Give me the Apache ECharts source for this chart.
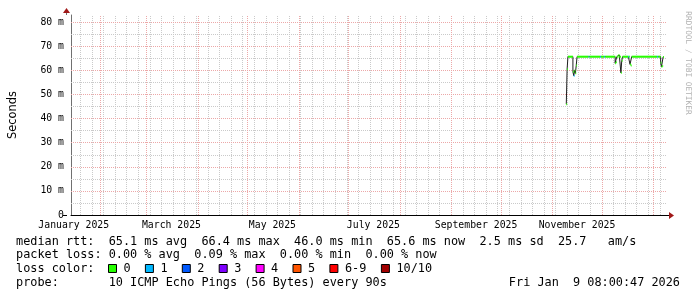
<!DOCTYPE html>
<html>
<head>
<meta charset="utf-8">
<script src="https://cdn.jsdelivr.net/npm/echarts@6/dist/echarts.min.js"></script>
<style>
html,body{margin:0;padding:0;background:#fff;}
#chart{width:697px;height:297px;}
</style>
</head>
<body>
<div id="chart"></div>
<script>
// ---- data ----
const rangeStart = '2025-01-14 08:00';
const rangeEnd = '2026-01-09 08:00';
const xLabelTimes = ['2025-01-16 00:00','2025-03-16 00:00','2025-05-16 00:00','2025-07-16 00:00','2025-09-16 00:00','2025-11-16 00:00'];
const xLabelTexts = ['January 2025','March 2025','May 2025','July 2025','September 2025','November 2025'];
const yTicks = [0,10,20,30,40,50,60,70,80];
const yTickLabels = ['0','10 m','20 m','30 m','40 m','50 m','60 m','70 m','80 m'];

// median rtt (ms) per sample; value holds until the next sample time
const rttTimes = [
  '2025-11-09 12:00','2025-11-10 00:00','2025-11-10 12:00','2025-11-13 12:00','2025-11-14 00:00',
  '2025-11-14 12:00','2025-11-15 00:00','2025-11-15 12:00','2025-11-16 00:00','2025-11-23 00:00',
  '2025-11-23 12:00','2025-11-30 00:00','2025-11-30 12:00','2025-12-02 12:00','2025-12-03 00:00',
  '2025-12-09 00:00','2025-12-09 12:00','2025-12-10 00:00','2025-12-11 00:00','2025-12-11 12:00',
  '2025-12-12 12:00','2025-12-13 00:00','2025-12-13 12:00','2025-12-17 00:00','2025-12-17 12:00',
  '2025-12-18 00:00','2025-12-18 12:00','2025-12-19 00:00','2026-01-03 12:00','2026-01-04 00:00',
  '2026-01-05 12:00','2026-01-06 00:00','2026-01-06 12:00','2026-01-07 00:00'
];
const rttMedian = [
  46.0, 60.5, 65.7, 59.5, 57.8,
  60.0, 58.8, 62.0, 65.7, 65.7,
  65.7, 65.7, 65.7, 65.7, 65.7,
  63.0, 63.4, 65.7, 66.4, 65.7,
  59.0, 64.0, 65.7, 65.7, 65.7,
  62.5, 62.0, 65.7, 65.7, 65.7,
  63.2, 61.5, 61.8, 65.6
];
const rttLoss = [
  0,0,0,0,1,
  0,0,0,0,1,
  0,1,0,1,0,
  0,0,0,0,0,
  0,0,0,1,0,
  0,0,0,1,0,
  0,0,0,0
];
const rttLastEnd = '2026-01-07 12:00';

const lossLabels = ['0','1','2','3','4','5','6-9','10/10'];
const lossColors = ['#26ff00','#00b8ff','#0059ff','#7e00ff','#ff00fe','#ff5500','#ff0000','#a10000'];

const statLine1 = 'median rtt:  65.1 ms avg  66.4 ms max  46.0 ms min  65.6 ms now  2.5 ms sd  25.7   am/s';
const statLine2 = 'packet loss: 0.00 % avg  0.09 % max  0.00 % min  0.00 % now';
const lossTitle = 'loss color:';
const probeLine = 'probe:       10 ICMP Echo Pings (56 Bytes) every 90s';
const stampText = 'Fri Jan  9 08:00:47 2026';
const watermark = 'RRDTOOL / TOBI OETIKER';

// ---- helpers ----
function T(s){ return new Date(s.replace(' ','T')).getTime(); }
const t0 = T(rangeStart), t1 = T(rangeEnd);

const G = {left:67, top:15, width:600, height:200};
const MONO = '"DejaVu Sans Mono", monospace';

// grid lines (computed from the axis range)
const minorStyle = {color:'#cacaca', type:[1,1], width:1};
const majorStyle = {color:'#eca8a8', type:[1,1], width:1};
const gridLines = [];
for (let v = 5; v < 83; v += 10) gridLines.push({yAxis:v, lineStyle:minorStyle});
{
  let d = new Date(t0); d.setHours(0,0,0,0);
  while (d.getDay() !== 1) d.setDate(d.getDate()+1);
  while (d.getTime() < t1) {
    if (d.getTime() > t0) gridLines.push({xAxis:d.getTime(), lineStyle:minorStyle});
    d.setDate(d.getDate()+7);
  }
}
for (let v = 10; v <= 80; v += 10) gridLines.push({yAxis:v, lineStyle:majorStyle});
{
  let d = new Date(t0); d.setDate(1); d.setHours(0,0,0,0); d.setMonth(d.getMonth()+1);
  while (d.getTime() < t1) {
    gridLines.push({xAxis:d.getTime(), lineStyle:majorStyle});
    d.setMonth(d.getMonth()+1);
  }
}

// series data
const blackLine = rttTimes.map((t,i)=>[T(t), rttMedian[i]]);
blackLine.push([T(rttLastEnd), rttMedian[rttMedian.length-1]]);
const segs = rttTimes.map((t,i)=>[T(t), i+1 < rttTimes.length ? T(rttTimes[i+1]) : T(rttLastEnd), rttMedian[i], rttLoss[i]]);

const labelVals = xLabelTimes.map(T);

const chart = echarts.init(document.getElementById('chart'), null, {renderer:'canvas'});

const graphics = [];
const rowY = [241.5, 255, 268.5, 282.5];
const textX = 16;
const fStat = '11.85px ' + MONO;
graphics.push({type:'text', style:{text:statLine1, x:textX, y:rowY[0], font:fStat, fill:'#000', textVerticalAlign:'middle'}});
graphics.push({type:'text', style:{text:statLine2, x:textX, y:rowY[1], font:fStat, fill:'#000', textVerticalAlign:'middle'}});
graphics.push({type:'text', style:{text:lossTitle, x:textX, y:rowY[2], font:fStat, fill:'#000', textVerticalAlign:'middle'}});
lossLabels.forEach((lab,i)=>{
  const sx = 108.5 + i*36.9 + (i===7 ? 14.6 : 0);
  graphics.push({type:'rect', shape:{x:sx, y:rowY[2]-4, width:8, height:8}, style:{fill:lossColors[i], stroke:'#000', lineWidth:1}});
  graphics.push({type:'text', style:{text:lab, x:sx+15, y:rowY[2], font:fStat, fill:'#000', textVerticalAlign:'middle'}});
});
graphics.push({type:'text', style:{text:probeLine, x:textX, y:rowY[3], font:fStat, fill:'#000', textVerticalAlign:'middle'}});
graphics.push({type:'text', style:{text:stampText, x:680, y:rowY[3], font:fStat, fill:'#000', textAlign:'right', textVerticalAlign:'middle'}});
graphics.push({type:'text', x:688, y:63, rotation:-Math.PI/2, style:{text:watermark, x:0, y:0, font:'7.8px ' + MONO, fill:'#b0b0b0', textAlign:'center', textVerticalAlign:'middle'}});
const ax = G.left, ay = G.top + G.height, ar = G.left + G.width;
graphics.push({type:'line', shape:{x1:ar, y1:ay+0.5, x2:ar+3, y2:ay+0.5}, style:{stroke:'#000', lineWidth:1}});
graphics.push({type:'line', shape:{x1:ax-4, y1:ay+0.5, x2:ax, y2:ay+0.5}, style:{stroke:'#000', lineWidth:1}});
graphics.push({type:'polygon', shape:{points:[[ar+2,ay-3],[ar+2,ay+4],[ar+7,ay+0.5]]}, style:{fill:'#a01818'}});
graphics.push({type:'line', shape:{x1:ax-0.5, y1:G.top-2, x2:ax-0.5, y2:G.top}, style:{stroke:'#707070', lineWidth:1}});
graphics.push({type:'polygon', shape:{points:[[ax-4,G.top-2],[ax+3,G.top-2],[ax-0.5,G.top-7]]}, style:{fill:'#a01818'}});

const option = {
  backgroundColor:'#ffffff',
  animation:false,
  grid:{left:G.left, top:G.top, width:G.width, height:G.height, containLabel:false},
  xAxis:{
    type:'value', min:t0, max:t1, scale:true,
    axisLine:{show:true, lineStyle:{color:'#000', width:1}},
    axisTick:{show:false},
    splitLine:{show:false},
    axisLabel:{
      customValues: labelVals,
      formatter:function(v){ const i = labelVals.indexOf(v); return i>=0 ? xLabelTexts[i] : ''; },
      fontFamily:'DejaVu Sans Mono', fontSize:9.8, color:'#000', margin:5, hideOverlap:false
    }
  },
  yAxis:{
    type:'value', min:0, max:83, interval:10,
    name:'Seconds', nameLocation:'middle', nameGap:52,
    nameTextStyle:{fontFamily:'DejaVu Sans', fontSize:11.4, color:'#000'},
    axisLine:{show:true, lineStyle:{color:'#707070', width:1}},
    axisTick:{show:false},
    splitLine:{show:false},
    axisLabel:{
      showMaxLabel:false,
      formatter:function(v){ const i = yTicks.indexOf(v); return i>=0 ? yTickLabels[i] : ''; },
      fontFamily:'DejaVu Sans Mono', fontSize:9.8, color:'#000', margin:7
    }
  },
  graphic: graphics,
  series:[
    {type:'line', data:[], silent:true, z:1,
     markLine:{silent:true, symbol:['none','none'], label:{show:false}, animation:false, z:1, data:gridLines}},
    {type:'line', data:blackLine, step:'end', showSymbol:false, symbol:'none', z:3,
     lineStyle:{color:'#202020', width:1}},
    {type:'custom', z:4, data:segs, encode:{x:[0,1], y:2},
     renderItem:function(params, api){
       const v = api.value(2);
       const p0 = api.coord([api.value(0), v]);
       const p1 = api.coord([api.value(1), v]);
       return {type:'line', shape:{x1:p0[0], y1:p0[1], x2:p1[0], y2:p1[1]},
               style:{stroke:lossColors[api.value(3)], lineWidth:2}};
     }}
  ]
};
chart.setOption(option);
</script>
</body>
</html>
